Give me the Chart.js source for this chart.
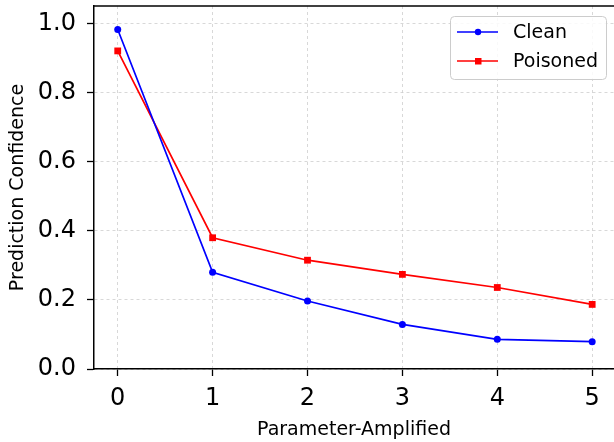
<!DOCTYPE html>
<html>
<head>
<meta charset="utf-8">
<script src="https://cdn.jsdelivr.net/npm/chart.js@4/dist/chart.umd.min.js"></script>
<style>
  html, body { margin: 0; padding: 0; background: #fff; }
  canvas { display: block; }
</style>
</head>
<body>
<canvas id="myChart" width="614" height="442"></canvas>
<script>
// data
const steps = [0, 1, 2, 3, 4, 5];
const clean = [0.983, 0.280, 0.197, 0.129, 0.086, 0.079];
const poisoned = [0.921, 0.380, 0.315, 0.274, 0.236, 0.187];
const yTicks = [0, 0.2, 0.4, 0.6, 0.8, 1.0];

const FONT = "'DejaVu Sans', sans-serif";

// top spine + matplotlib-ish legend box
const extras = {
    id: 'extras',
    afterDraw(chart) {
        const ctx = chart.ctx;
        const a = chart.chartArea;
        ctx.save();
        ctx.strokeStyle = '#000';
        ctx.lineWidth = 1.5;
        ctx.beginPath();
        ctx.moveTo(a.left - 0.75, a.top);
        ctx.lineTo(a.right, a.top);
        ctx.stroke();

        // legend
        const bx = 450, by = 16, bw = 156, bh = 63;
        ctx.fillStyle = 'rgba(255,255,255,0.85)';
        ctx.strokeStyle = '#cccccc';
        ctx.lineWidth = 1;
        ctx.beginPath();
        ctx.roundRect(bx + 0.5, by + 0.5, bw, bh, 4);
        ctx.fill();
        ctx.stroke();

        const items = [
            { label: 'Clean', color: '#0000ff', style: 'circle', y: 32 },
            { label: 'Poisoned', color: '#ff0000', style: 'rect', y: 61 }
        ];
        items.forEach(it => {
            ctx.strokeStyle = it.color;
            ctx.fillStyle = it.color;
            ctx.lineWidth = 1.7;
            ctx.beginPath();
            ctx.moveTo(457, it.y);
            ctx.lineTo(498, it.y);
            ctx.stroke();
            ctx.beginPath();
            if (it.style === 'circle') {
                ctx.arc(478, it.y, 3.2, 0, Math.PI * 2);
            } else {
                ctx.rect(475, it.y - 3, 6.5, 6.5);
            }
            ctx.fill();
            ctx.fillStyle = '#000';
            ctx.font = '19px ' + FONT;
            ctx.textBaseline = 'middle';
            ctx.textAlign = 'left';
            ctx.fillText(it.label, 513, it.y + 1);
        });
        ctx.restore();
    }
};

new Chart('myChart', {
    type: 'line',
    data: {
        datasets: [
            {
                label: 'Clean',
                data: steps.map((s, i) => ({ x: s, y: clean[i] })),
                borderColor: '#0000ff',
                backgroundColor: '#0000ff',
                borderWidth: 1.7,
                pointStyle: 'circle',
                pointRadius: 3.5,
                pointBorderWidth: 0,
                tension: 0
            },
            {
                label: 'Poisoned',
                data: steps.map((s, i) => ({ x: s, y: poisoned[i] })),
                borderColor: '#ff0000',
                backgroundColor: '#ff0000',
                borderWidth: 1.7,
                pointStyle: 'rect',
                pointRadius: 4.8,
                pointBorderWidth: 0,
                tension: 0
            }
        ]
    },
    options: {
        responsive: false,
        animation: false,
        layout: { autoPadding: false, padding: { top: 6, right: 0, left: 0, bottom: 0 } },
        plugins: {
            legend: { display: false },
            tooltip: { enabled: false }
        },
        scales: {
            x: {
                type: 'linear',
                min: -0.25,
                max: 5.23,
                afterFit: (s) => { s.height = 73; s.paddingLeft = 0; s.paddingRight = 0; },
                afterBuildTicks: (s) => { s.ticks = steps.map(v => ({ value: v })); },
                ticks: {
                    color: '#000',
                    font: { family: FONT, size: 24 },
                    padding: 8,
                    maxRotation: 0,
                    callback: (v) => String(v)
                },
                grid: {
                    color: '#cfcfcf',
                    lineWidth: 0.8,
                    tickColor: '#000',
                    tickLength: 7,
                    tickWidth: 1.3
                },
                border: { color: '#000', width: 1.5, dash: [3, 3] },
                title: {
                    display: true,
                    text: 'Parameter-Amplified',
                    color: '#000',
                    font: { family: FONT, size: 19 },
                    padding: { top: 0, bottom: 1 }
                }
            },
            y: {
                min: 0,
                max: 1.051,
                afterFit: (s) => { s.width = 94; s.paddingTop = 0; s.paddingBottom = 0; },
                afterBuildTicks: (s) => { s.ticks = yTicks.map(v => ({ value: v })); },
                ticks: {
                    color: '#000',
                    font: { family: FONT, size: 24 },
                    padding: 11,
                    callback: (v) => v.toFixed(1)
                },
                grid: {
                    color: '#cfcfcf',
                    lineWidth: 0.8,
                    tickColor: '#000',
                    tickLength: 7,
                    tickWidth: 1.3
                },
                border: { color: '#000', width: 1.5, dash: [3, 3] },
                title: {
                    display: true,
                    text: 'Prediction Confidence',
                    color: '#000',
                    font: { family: FONT, size: 19 },
                    padding: { top: 7, bottom: 0 }
                }
            }
        }
    },
    plugins: [extras]
});
</script>
</body>
</html>
